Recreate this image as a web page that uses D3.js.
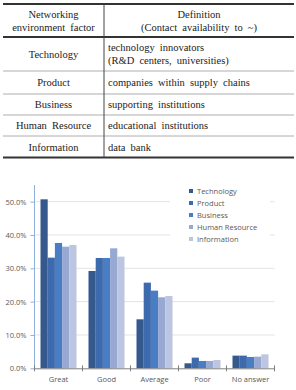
<!DOCTYPE html>
<html>
<head>
<meta charset="utf-8">
<script src="https://cdn.jsdelivr.net/npm/d3@7"></script>
<style>
  body { margin: 0; background: #fff; }
  svg { display: block; }
  .tbl text { font-family: "Liberation Serif", serif; font-size: 10.5px; fill: #222; word-spacing: 2.5px; }
  .chart text { font-family: "Open Sans", "Liberation Sans", sans-serif; font-size: 7.5px; fill: #595959; }
</style>
</head>
<body>
<svg id="canvas" width="296" height="390"></svg>
<script>
// table contents
const factors = ["Technology", "Product", "Business", "Human Resource", "Information"];
const definitions = [
  ["technology innovators", "(R&D centers, universities)"],
  ["companies within supply chains"],
  ["supporting institutions"],
  ["educational institutions"],
  ["data bank"]
];
const headLeft = ["Networking", "environment factor"];
const headRight = ["Definition", "(Contact availability to ~)"];

// chart data (percent)
const answers = ["Great", "Good", "Average", "Poor", "No answer"];
const technology = [50.7, 29.2, 14.7, 1.5, 3.8];
const product = [33.2, 33.1, 25.7, 3.2, 3.8];
const business = [37.6, 33.1, 23.3, 2.2, 3.4];
const humanResource = [36.5, 36.0, 21.3, 2.2, 3.5];
const information = [37.0, 33.5, 21.7, 2.5, 4.2];
const yTicks = [0, 10, 20, 30, 40, 50];

const series = [technology, product, business, humanResource, information];
const colors = ["#35598d", "#3d69ad", "#4a7ec4", "#97a8d2", "#bcc6e0"];

const svg = d3.select("#canvas");

// ---------- table ----------
const rowEdges = [4, 37, 71, 94, 115, 136, 157.5];
const colX = 104;
const tl = 3, tr = 294;
const tbl = svg.append("g").attr("class", "tbl");

// lines
rowEdges.forEach((yy, i) => {
  const thick = i === 0 || i === 1 || i === rowEdges.length - 1;
  tbl.append("line").attr("x1", tl).attr("x2", tr).attr("y1", yy).attr("y2", yy)
    .attr("stroke", thick ? "#333" : "#999").attr("stroke-width", thick ? 1.8 : 0.8);
});
tbl.append("line").attr("x1", colX).attr("x2", colX).attr("y1", rowEdges[0]).attr("y2", rowEdges[6])
  .attr("stroke", "#444").attr("stroke-width", 1);

function cellText(lines, cx, y0, y1, anchor) {
  const mid = (y0 + y1) / 2;
  const lh = 13;
  lines.forEach((t, i) => {
    tbl.append("text").attr("x", cx).attr("y", mid + (i - (lines.length - 1) / 2) * lh + 3.8)
      .attr("text-anchor", anchor).text(t);
  });
}
cellText(headLeft, (tl + colX) / 2, rowEdges[0], rowEdges[1], "middle");
cellText(headRight, (colX + tr) / 2, rowEdges[0], rowEdges[1], "middle");
factors.forEach((f, i) => {
  cellText([f], (tl + colX) / 2, rowEdges[i + 1], rowEdges[i + 2], "middle");
  cellText(definitions[i], colX + 4, rowEdges[i + 1], rowEdges[i + 2], "start");
});

// ---------- chart ----------
const chartLeft = 34.5, chartRight = 274.5, chartTop = 185, chartBottom = 368.3;
const x = d3.scaleBand().domain(answers).range([chartLeft, chartRight]).paddingInner(0.25).paddingOuter(0.125);
const x1 = d3.scaleBand().domain(d3.range(series.length)).range([0, x.bandwidth()]);
const y = d3.scaleLinear().domain([0, 50]).range([chartBottom, chartBottom - 5 * 33.33]);

const chart = svg.append("g").attr("class", "chart");

// gridlines
chart.append("g").selectAll("line").data(yTicks.slice(1)).enter().append("line")
  .attr("x1", chartLeft).attr("x2", chartRight)
  .attr("y1", d => y(d)).attr("y2", d => y(d))
  .attr("stroke", "#e3e3e3").attr("stroke-width", 1);

// bars
const groups = chart.append("g").selectAll("g").data(answers).enter().append("g")
  .attr("transform", d => `translate(${x(d)},0)`);
groups.selectAll("rect").data((d, i) => series.map((s, k) => ({ k: k, v: s[i] })))
  .enter().append("rect")
  .attr("x", d => x1(d.k))
  .attr("width", x1.bandwidth())
  .attr("y", d => y(d.v))
  .attr("height", d => chartBottom - y(d.v))
  .attr("fill", d => colors[d.k]);

// legend (white box hides grid)
const lg = chart.append("g").attr("transform", "translate(187,185)");
lg.append("rect").attr("x", -17).attr("y", 0).attr("width", 100).attr("height", 64).attr("fill", "#fff");
factors.forEach((f, i) => {
  lg.append("rect").attr("x", 2).attr("y", 4 + i * 12).attr("width", 4).attr("height", 4).attr("fill", colors[i]);
  lg.append("text").attr("x", 10).attr("y", 9 + i * 12).text(f);
});

// y axis
const yAxis = chart.append("g").attr("transform", `translate(${chartLeft},0)`)
  .call(d3.axisLeft(y).tickValues(yTicks).tickSize(4).tickPadding(4).tickFormat(d => d.toFixed(1) + "%"));
yAxis.attr("font-size", null).attr("font-family", null);
yAxis.select(".domain").attr("stroke", "#8db0dc").attr("d", `M-0,${chartTop}V${chartBottom}`);
yAxis.selectAll(".tick line").attr("stroke", "#8db0dc");

// x axis
const xAxis = chart.append("g").attr("transform", `translate(0,${chartBottom})`)
  .call(d3.axisBottom(x).tickSize(0).tickPadding(8));
xAxis.attr("font-size", null).attr("font-family", null);
xAxis.select(".domain").attr("stroke", "#7f7f7f");
// category divider ticks
chart.append("g").selectAll("line").data(d3.range(answers.length + 1)).enter().append("line")
  .attr("x1", i => chartLeft + i * (chartRight - chartLeft) / answers.length)
  .attr("x2", i => chartLeft + i * (chartRight - chartLeft) / answers.length)
  .attr("y1", chartBottom - 3).attr("y2", chartBottom + 3)
  .attr("stroke", "#7f7f7f");
</script>
</body>
</html>
